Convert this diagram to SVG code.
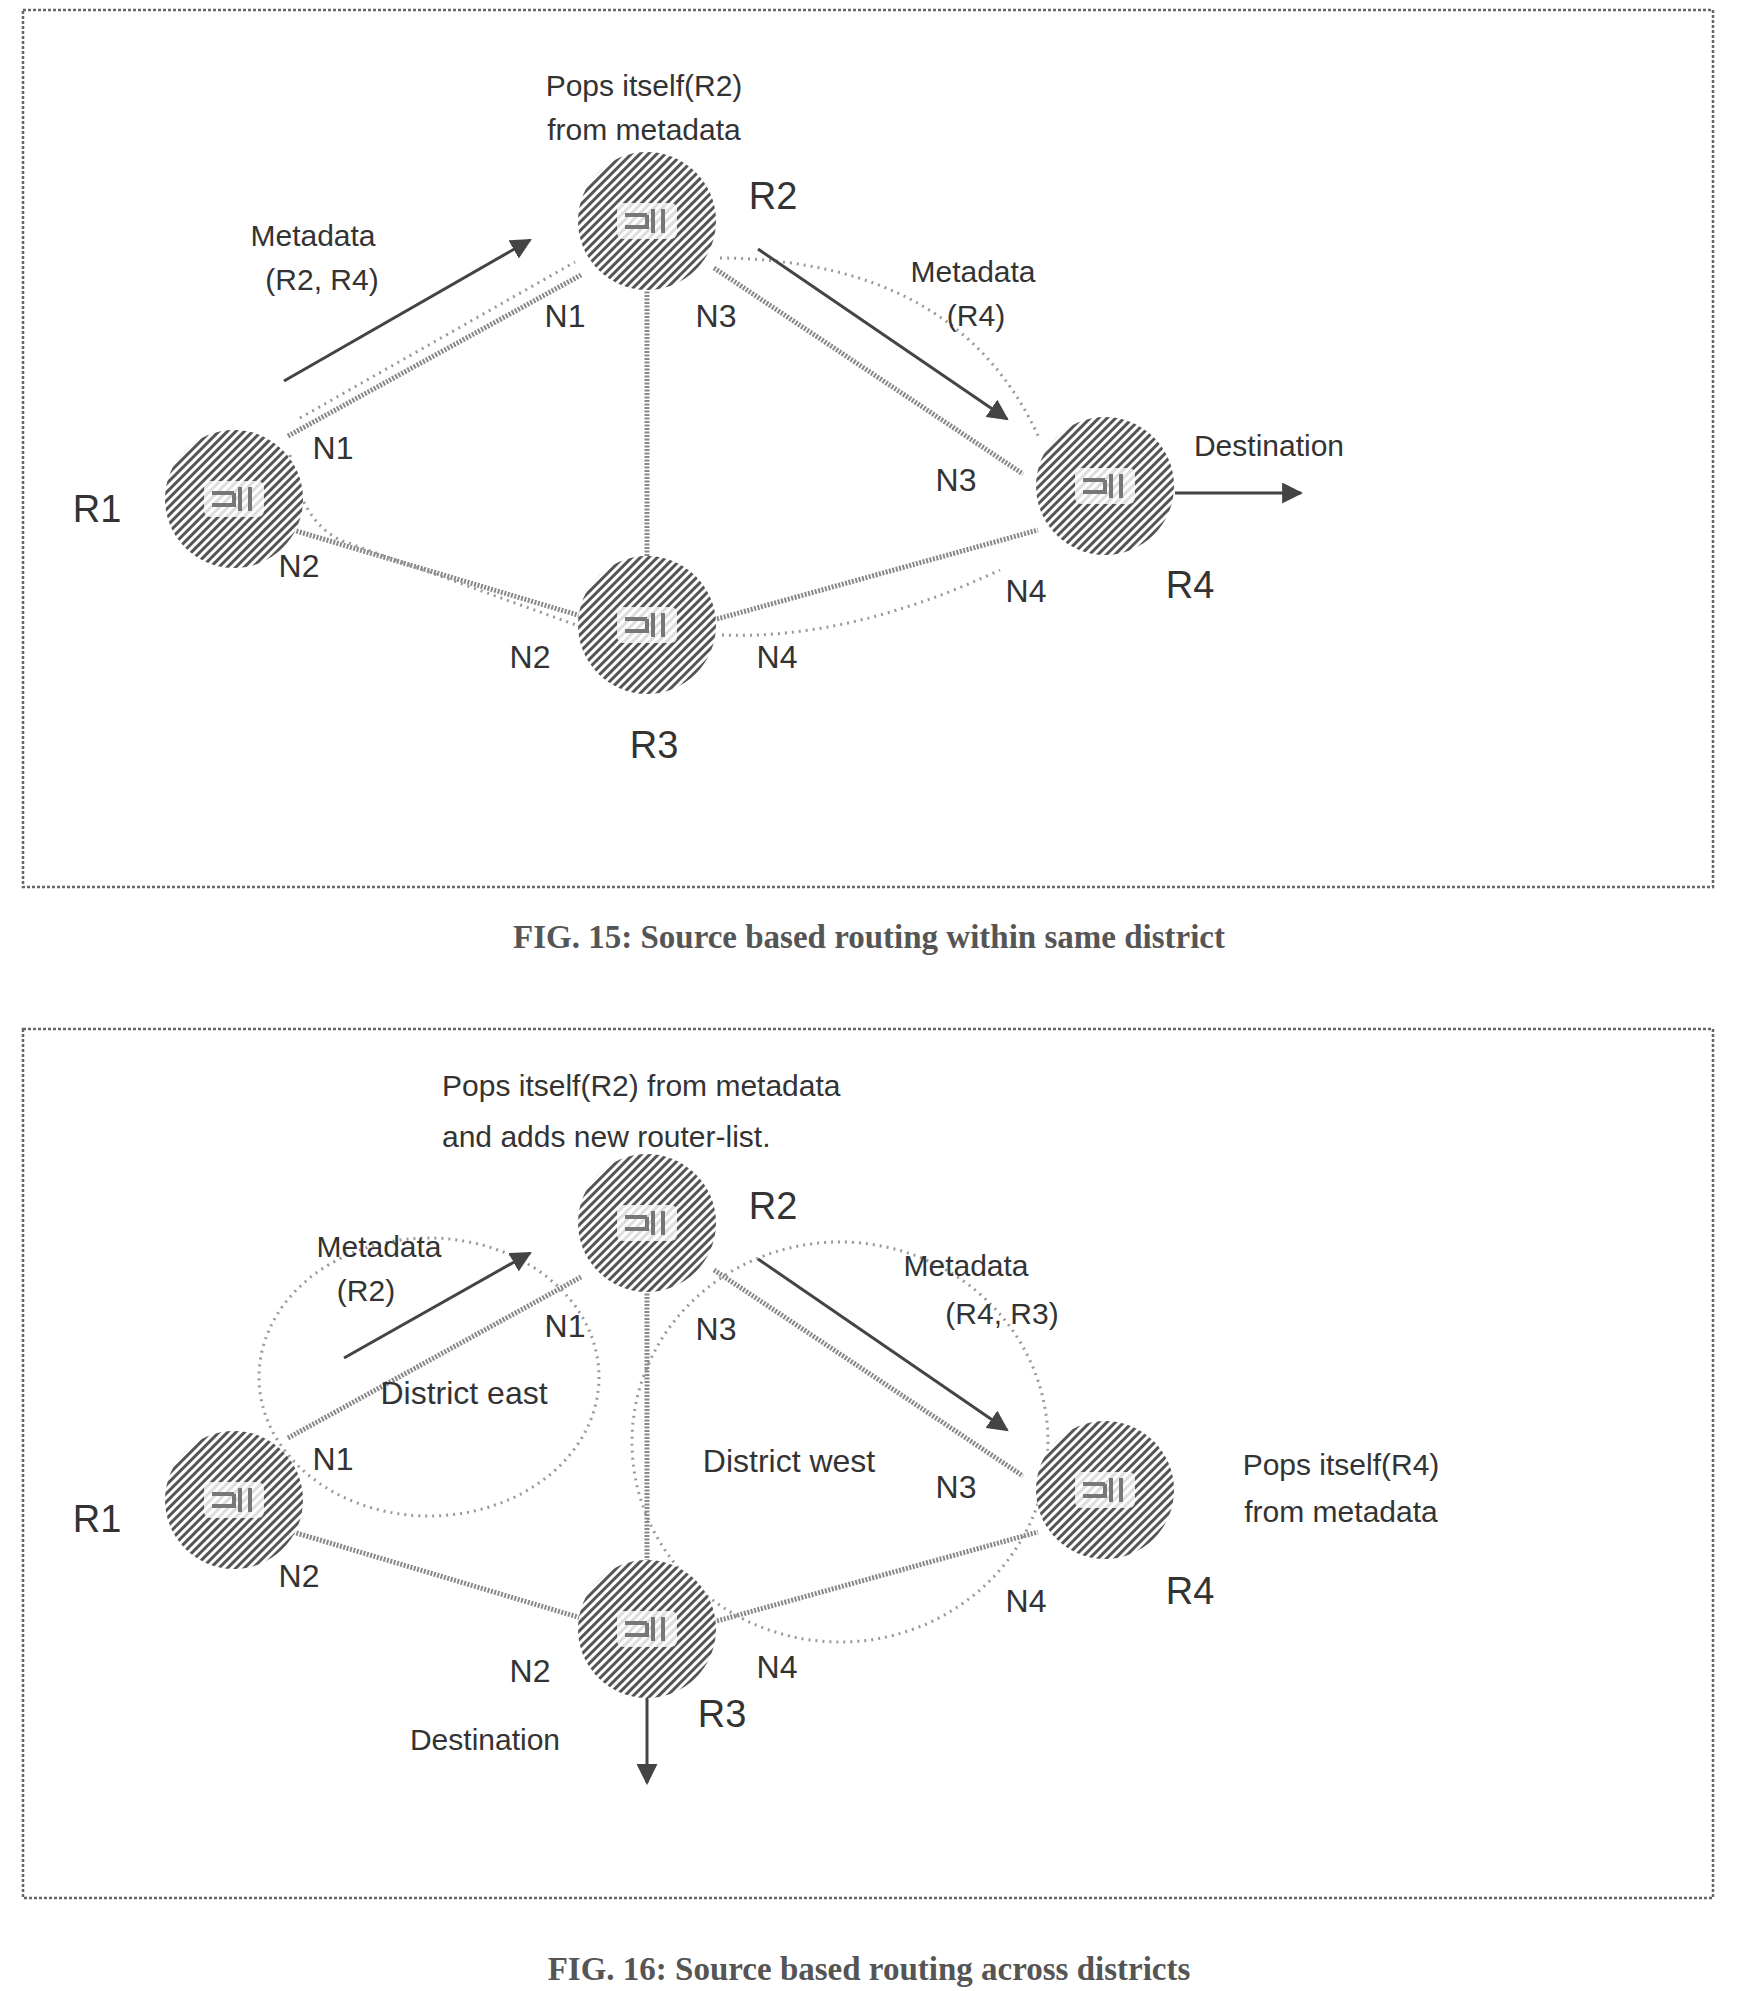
<svg xmlns="http://www.w3.org/2000/svg" width="1743" height="1991" viewBox="0 0 1743 1991">
<defs>
<pattern id="hatch" width="6" height="6" patternUnits="userSpaceOnUse" patternTransform="rotate(45)">
<rect width="6" height="6" fill="#fff"/><rect width="3" height="6" fill="#555"/>
</pattern>
<marker id="ah" viewBox="0 0 10 10" refX="9" refY="5" markerWidth="7" markerHeight="7" orient="auto"><path d="M0,0 L10,5 L0,10 z" fill="#444"/></marker>
<g id="router">
<circle r="69" fill="url(#hatch)"/>
<rect x="-30" y="-18" width="60" height="36" rx="6" fill="#fff" opacity="0.8"/>
<path d="M-22,-6 H0 M-22,6 H0 M6,-12 V12 M16,-12 V12 M0,-6 V8" stroke="#777" stroke-width="4" fill="none"/>
</g>
</defs>
<style>
.t{font-family:"Liberation Sans",Arial,sans-serif;fill:#333;}
.s{font-size:30px}.m{font-size:32px}.l{font-size:38px}
.cap{font-family:"Liberation Serif","Times New Roman",serif;font-weight:bold;font-size:33px;fill:#555;}
.frame{fill:none;stroke:#666;stroke-width:2.5;stroke-dasharray:3 2}
.link{stroke:#888;stroke-width:5;stroke-dasharray:2 1.5;fill:none}
.dot{stroke:#999;stroke-width:3;stroke-dasharray:2 5;fill:none}
.arr{stroke:#444;stroke-width:3;fill:none;marker-end:url(#ah)}
</style>
<rect width="1743" height="1991" fill="#fff"/>
<rect class="frame" x="23" y="10" width="1690" height="877"/>
<rect class="frame" x="23" y="1029" width="1690" height="869"/>
<text class="cap" x="869" y="948" text-anchor="middle">FIG. 15: Source based routing within same district</text>
<text class="cap" x="869" y="1980" text-anchor="middle">FIG. 16: Source based routing across districts</text>

<g id="connectors">
<line class="link" x1="288" y1="436" x2="581" y2="275"/>
<line class="link" x1="293" y1="530" x2="581" y2="616"/>
<line class="link" x1="647" y1="288" x2="647" y2="556"/>
<line class="link" x1="714" y1="268" x2="1023" y2="474"/>
<line class="link" x1="717" y1="619" x2="1038" y2="530"/>
<path class="dot" d="M300,418 L575,262"/>
<path class="dot" d="M290,455 Q300,520 340,540 L590,630"/>
<path class="dot" d="M720,258 Q960,260 1040,440"/>
<path class="dot" d="M722,635 Q850,640 1000,570"/>
<line class="arr" x1="284" y1="381" x2="530" y2="240"/>
<line class="arr" x1="758" y1="249" x2="1007" y2="419"/>
<line class="arr" x1="1175" y1="493" x2="1301" y2="493"/>

<line class="link" x1="288" y1="1438" x2="581" y2="1277"/>
<line class="link" x1="293" y1="1532" x2="581" y2="1618"/>
<line class="link" x1="647" y1="1290" x2="647" y2="1560"/>
<line class="link" x1="714" y1="1270" x2="1023" y2="1476"/>
<line class="link" x1="717" y1="1621" x2="1038" y2="1532"/>
<ellipse class="dot" cx="429" cy="1377" rx="170" ry="139"/>
<ellipse class="dot" cx="840" cy="1442" rx="208" ry="200"/>
<line class="arr" x1="344" y1="1358" x2="530" y2="1253"/>
<line class="arr" x1="758" y1="1259" x2="1007" y2="1430"/>
<line class="arr" x1="647" y1="1692" x2="647" y2="1783"/>
</g>

<g id="fig15-R1"><use href="#router" x="234" y="499"/><text class="t l" x="97" y="522" text-anchor="middle">R1</text></g>
<g id="fig15-R2"><use href="#router" x="647" y="221"/><text class="t l" x="773" y="209" text-anchor="middle">R2</text></g>
<g id="fig15-R3"><use href="#router" x="647" y="625"/><text class="t l" x="654" y="758" text-anchor="middle">R3</text></g>
<g id="fig15-R4"><use href="#router" x="1105" y="486"/><text class="t l" x="1190" y="598" text-anchor="middle">R4</text></g>
<g id="fig15-labels">
<text class="t s" x="644" y="96" text-anchor="middle">Pops itself(R2)</text>
<text class="t s" x="644" y="140" text-anchor="middle">from metadata</text>
<text class="t s" x="313" y="246" text-anchor="middle">Metadata</text>
<text class="t s" x="322" y="290" text-anchor="middle">(R2, R4)</text>
<text class="t s" x="973" y="282" text-anchor="middle">Metadata</text>
<text class="t s" x="976" y="326" text-anchor="middle">(R4)</text>
<text class="t m" x="565" y="327" text-anchor="middle">N1</text>
<text class="t m" x="716" y="327" text-anchor="middle">N3</text>
<text class="t m" x="333" y="459" text-anchor="middle">N1</text>
<text class="t m" x="299" y="577" text-anchor="middle">N2</text>
<text class="t m" x="956" y="491" text-anchor="middle">N3</text>
<text class="t m" x="1026" y="602" text-anchor="middle">N4</text>
<text class="t m" x="530" y="668" text-anchor="middle">N2</text>
<text class="t m" x="777" y="668" text-anchor="middle">N4</text>
<text class="t s" x="1269" y="456" text-anchor="middle">Destination</text>
</g>

<g id="fig16-R1"><use href="#router" x="234" y="1500"/><text class="t l" x="97" y="1532" text-anchor="middle">R1</text></g>
<g id="fig16-R2"><use href="#router" x="647" y="1223"/><text class="t l" x="773" y="1219" text-anchor="middle">R2</text></g>
<g id="fig16-R3"><use href="#router" x="647" y="1629"/><text class="t l" x="722" y="1727" text-anchor="middle">R3</text></g>
<g id="fig16-R4"><use href="#router" x="1105" y="1490"/><text class="t l" x="1190" y="1604" text-anchor="middle">R4</text></g>
<g id="fig16-labels">
<text class="t s" x="442" y="1096">Pops itself(R2)  from metadata</text>
<text class="t s" x="442" y="1147">and adds new router-list.</text>
<text class="t s" x="379" y="1257" text-anchor="middle">Metadata</text>
<text class="t s" x="366" y="1301" text-anchor="middle">(R2)</text>
<text class="t s" x="966" y="1276" text-anchor="middle">Metadata</text>
<text class="t s" x="1002" y="1324" text-anchor="middle">(R4, R3)</text>
<text class="t m" x="565" y="1337" text-anchor="middle">N1</text>
<text class="t m" x="716" y="1340" text-anchor="middle">N3</text>
<text class="t m" x="464" y="1404" text-anchor="middle">District east</text>
<text class="t m" x="333" y="1470" text-anchor="middle">N1</text>
<text class="t m" x="299" y="1587" text-anchor="middle">N2</text>
<text class="t m" x="789" y="1472" text-anchor="middle">District west</text>
<text class="t m" x="956" y="1498" text-anchor="middle">N3</text>
<text class="t s" x="1341" y="1475" text-anchor="middle">Pops itself(R4)</text>
<text class="t s" x="1341" y="1522" text-anchor="middle">from metadata</text>
<text class="t m" x="1026" y="1612" text-anchor="middle">N4</text>
<text class="t m" x="530" y="1682" text-anchor="middle">N2</text>
<text class="t m" x="777" y="1678" text-anchor="middle">N4</text>
<text class="t s" x="485" y="1750" text-anchor="middle">Destination</text>
</g>
</svg>
